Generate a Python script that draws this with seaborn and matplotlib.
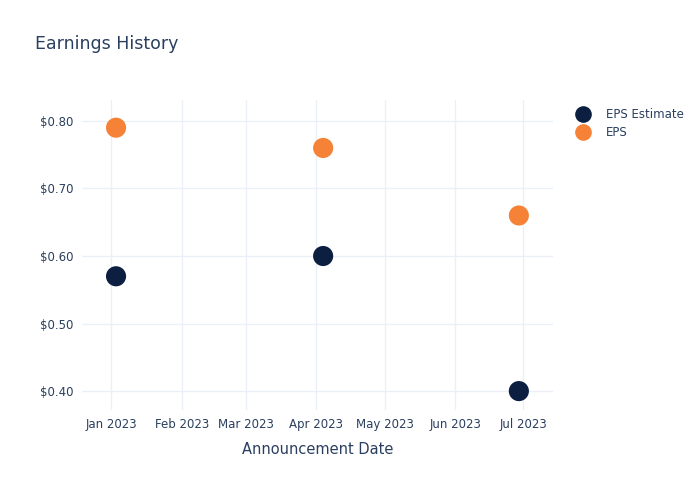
import matplotlib
matplotlib.use("Agg")
import matplotlib.pyplot as plt
import matplotlib.dates as mdates
import seaborn as sns
import pandas as pd
import numpy as np

dates = ["2023-01-03", "2023-04-04", "2023-06-29"]
eps_estimate = [0.57, 0.60, 0.40]
eps_actual = [0.79, 0.76, 0.66]
series_names = ["EPS Estimate", "EPS"]
colors = ["#0c1f40", "#f58236"]

df = pd.DataFrame({
    "date": pd.to_datetime(dates * 2),
    "value": eps_estimate + eps_actual,
    "series": [series_names[0]] * 3 + [series_names[1]] * 3,
})

sns.set_style("white")
plt.rcParams["font.family"] = ["DejaVu Sans"]
text_color = "#2a3f5f"
grid_color = "#ebf0f8"

fig = plt.figure(figsize=(7, 5), dpi=100)
ax = fig.add_axes([0.117, 0.18, 0.673, 0.62])

sns.scatterplot(data=df, x="date", y="value", hue="series",
                palette=dict(zip(series_names, colors)), s=210,
                edgecolor="none", ax=ax, legend=False, zorder=3)

ax.set_xlim(pd.Timestamp("2022-12-19"), pd.Timestamp("2023-07-14"))
ax.set_ylim(0.372, 0.831)
ax.xaxis.set_major_locator(mdates.MonthLocator())
ax.xaxis.set_major_formatter(mdates.DateFormatter("%b %Y"))
ax.set_yticks([0.40, 0.50, 0.60, 0.70, 0.80])
ax.set_yticklabels(["$%.2f" % v for v in [0.40, 0.50, 0.60, 0.70, 0.80]])
ax.grid(True, color=grid_color, linewidth=1)
ax.set_axisbelow(True)
for s in ax.spines.values():
    s.set_visible(False)
ax.tick_params(axis="both", length=0, labelsize=8.5, colors=text_color, pad=6)
ax.set_xlabel("Announcement Date", fontsize=10.5, color=text_color, labelpad=8)
ax.set_ylabel("")

fig.text(35 / 700, 1 - 44 / 500, "Earnings History", fontsize=12.5,
         color=text_color, va="center", ha="left")

handles = [plt.Line2D([], [], marker="o", linestyle="none", markersize=12,
                      markerfacecolor=c, markeredgecolor="none") for c in colors]
leg = fig.legend(handles, series_names, loc="upper left",
                 bbox_to_anchor=(571 / 700, 1 - 103 / 500), frameon=False,
                 fontsize=8.5, handletextpad=1.35, labelspacing=0.45,
                 handlelength=1.2, borderaxespad=0)
for t in leg.get_texts():
    t.set_color(text_color)

fig.savefig("out.png", dpi=100, facecolor="white")
